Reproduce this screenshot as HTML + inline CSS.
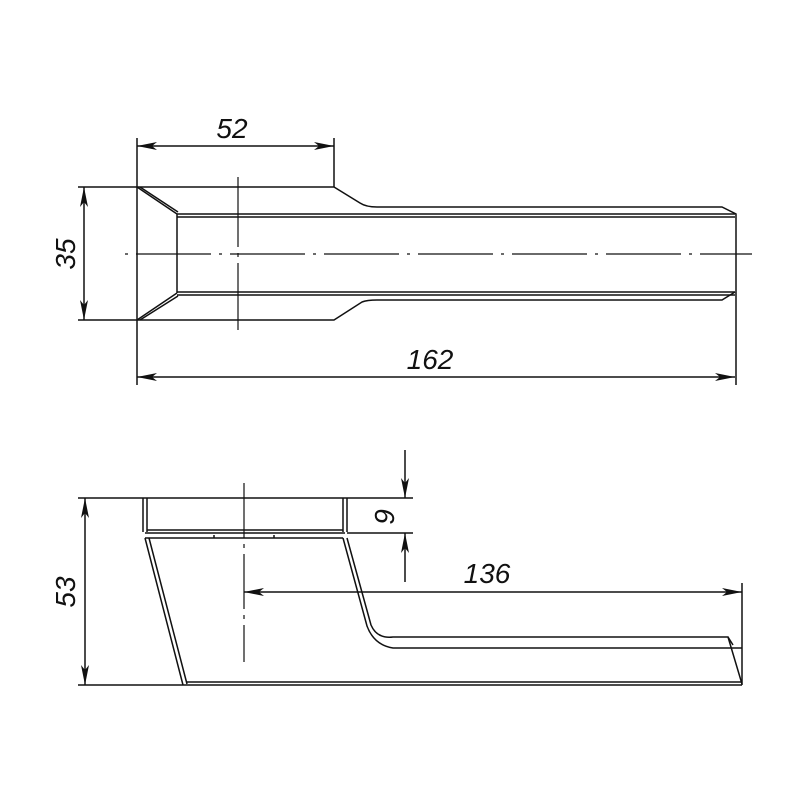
<!DOCTYPE html>
<html><head><style>body{margin:0;background:#fff}svg{display:block}</style></head><body>
<svg width="800" height="800" viewBox="0 0 800 800" xmlns="http://www.w3.org/2000/svg">
<defs>
<marker id="a" viewBox="0 0 20 8" refX="20" refY="4" markerWidth="20" markerHeight="8" markerUnits="userSpaceOnUse" orient="auto-start-reverse"><path d="M0,0 L20,4 L0,8 L5,4 Z" fill="#111"/></marker>
</defs>
<g fill="none" stroke="#111" stroke-width="1.5">
<!-- top view -->
<path d="M78,187 H334 L360,203 Q366,207 377,207 H722 L736,214 V385"/>
<path d="M78,320 H334 L362,302 Q367,300 377,300 H722 L735,292"/>
<path d="M177,214 H735 M177,217 H735 M177,292 H735 M177,295 H735"/>
<path d="M137,138 V385 M334,138 V187"/>
<path d="M137,187 L177,214 M140,187 L178,212 M137,320 L177,293 M140,320 L178,296 M177,214 V293"/>
<path d="M125,254 H752" stroke-dasharray="3,8,75,8" stroke-width="1.2"/>
<path d="M238,177 V330" stroke-dasharray="70,6,4,6" stroke-width="1.2"/>
<path d="M137,146 H334" marker-start="url(#a)" marker-end="url(#a)"/>
<path d="M84,187 V320" marker-start="url(#a)" marker-end="url(#a)"/>
<path d="M137,377 H735" marker-start="url(#a)" marker-end="url(#a)"/>
<!-- bottom view -->
<path d="M78,498 H413 M347,533 H413"/>
<path d="M143,498 V532 M147,498 V532 M343,498 V532 M347,498 V532 M147,530 H343 M145,533 H345 M145,538 H343"/>
<path d="M214,535 V538 M274,535 V538"/>
<path d="M145,538 L183,685 M149,538 L187,684"/>
<path d="M343,538 L367,626 Q374,645 393,648 H742 M347,538 L371,625 Q377,639 393,637 H728 L742,684 M728,637 L733,645"/>
<path d="M78,685 H742 M187,682 H742"/>
<path d="M244,483 V662" stroke-dasharray="55,6,4,6" stroke-width="1.2"/>
<path d="M405,450 V498" marker-end="url(#a)"/>
<path d="M405,582 V533" marker-end="url(#a)"/>
<path d="M742,583 V685"/>
<path d="M244,592 H742" marker-start="url(#a)" marker-end="url(#a)"/>
<path d="M85,498 V685" marker-start="url(#a)" marker-end="url(#a)"/>
</g>
<g font-family="Liberation Sans, sans-serif" font-size="28" font-style="italic" fill="#111" text-anchor="middle">
<text x="232" y="138">52</text>
<text x="430" y="369">162</text>
<text x="487" y="583">136</text>
<text transform="translate(75,254) rotate(-90)">35</text>
<text transform="translate(75,592) rotate(-90)">53</text>
<text transform="translate(394,517) rotate(-90)">9</text>
</g>
</svg>
</body></html>
